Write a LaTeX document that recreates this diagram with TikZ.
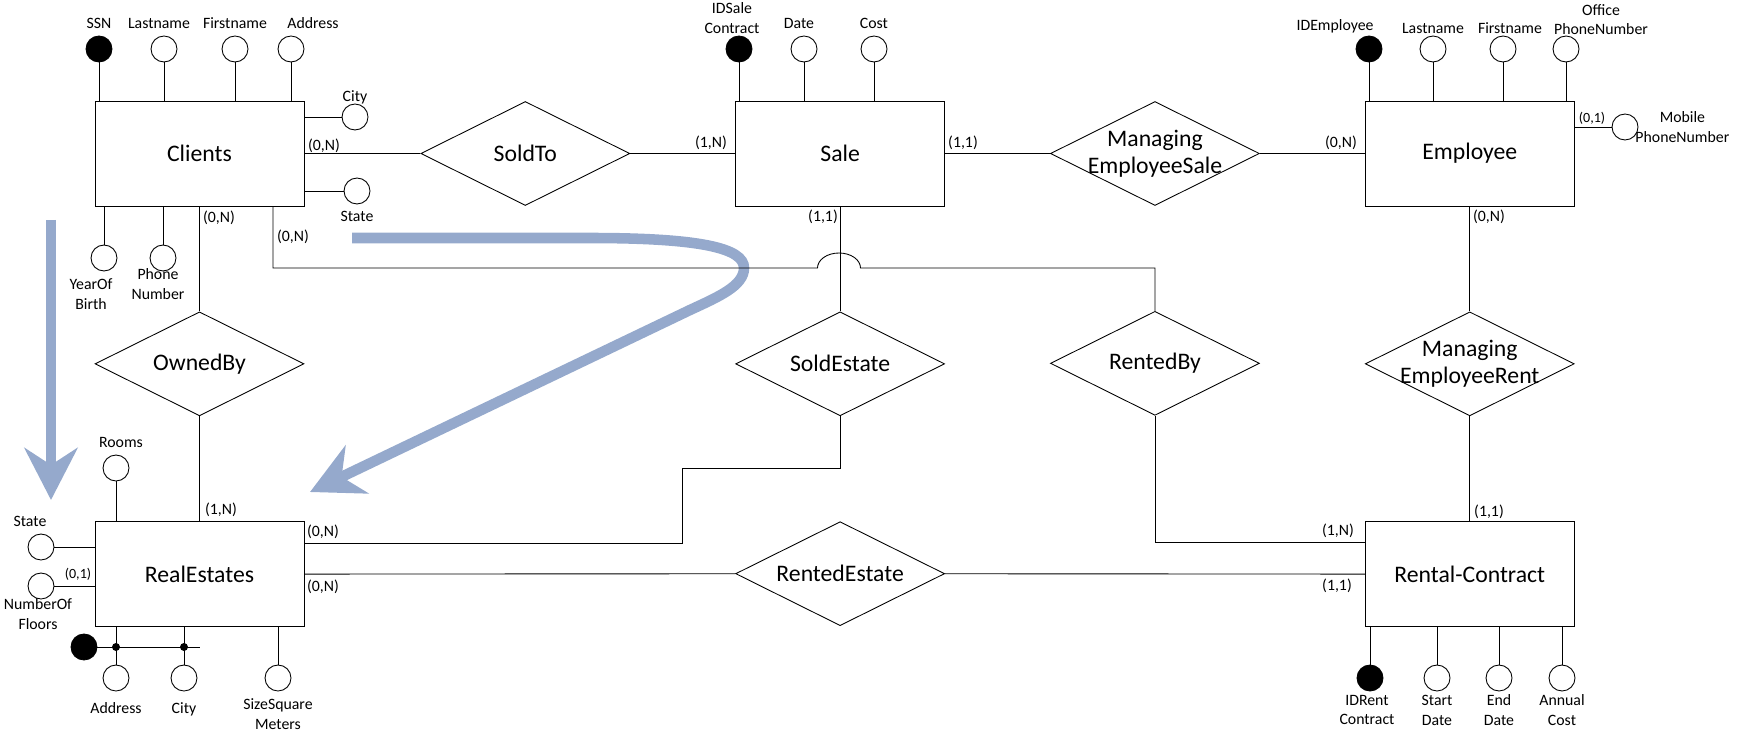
\documentclass[tikz,border=0pt]{standalone}
\usepackage{fontspec}
\setmainfont{Carlito}
\usepackage{tikz}
\usetikzlibrary{positioning,shapes.geometric,arrows.meta}
\definecolor{hintblue}{RGB}{149,169,204}

\tikzset{
  entity/.style={draw, rectangle, minimum width=4.18cm, minimum height=2.1cm, inner sep=0pt, font=\fontsize{13.5}{16}\selectfont},
  relation/.style={draw, diamond, aspect=2, minimum width=4.18cm, minimum height=2.08cm, inner sep=-2mm, align=center, font=\fontsize{13.5}{15.5}\selectfont},
  attr/.style={draw, circle, minimum size=0.52cm, inner sep=0pt},
  key/.style={attr, fill=black},
  lbl/.style={inner sep=1pt, outer sep=3pt, align=center, font=\fontsize{9}{11.3}\selectfont},
  card/.style={inner sep=0pt, font=\fontsize{9}{10}\selectfont},
  smallcard/.style={inner sep=0pt, font=\fontsize{8}{9}\selectfont},
  dot/.style={circle, fill=black, minimum size=0.16cm, inner sep=0pt},
  hint/.style={draw=hintblue, line width=6pt, -{Stealth[length=10.4mm, width=10.6mm, inset=3.4mm]}}
}

\begin{document}
\begin{tikzpicture}[x=0.02cm, y=-0.02cm, node distance=2.1cm, line width=0.5pt, every label/.style={lbl}]
\useasboundingbox (0,0) rectangle (1748,733);

% reading hints
\coordinate (downFrom) at (51,220);
\coordinate (downTo) at (51,500);
\draw[hint] (downFrom) -- (downTo);
\coordinate (curveFrom) at (352,238);
\coordinate (curveTo) at (310,492);
\draw[hint] (curveFrom) -- (590,238) .. controls (700,238) and (744,248) .. (744,268)
  .. controls (744,286) and (718,297) .. (690,310) -- (curveTo);

% entities and relationships
\node[entity] (Clients) at (199.5,153.5) {Clients};%
\node[relation, right=2.32cm of Clients] (SoldTo) {SoldTo};%
\node[entity, right=of SoldTo] (Sale) {Sale};%
\node[relation, right=of Sale] (MngSale) {Managing\\EmployeeSale};%
\node[entity, right=of MngSale] (Employee) {Employee};%
\node[relation, below=of Clients] (OwnedBy) {OwnedBy};%
\node[entity, below=of OwnedBy] (RealEstates) {RealEstates};%
\node[relation, below=of Sale] (SoldEstate) {SoldEstate};%
\node[relation, below=of SoldEstate] (RentedEstate) {RentedEstate};%
\node[relation, below=of MngSale] (RentedBy) {RentedBy};%
\node[relation, below=of Employee] (MngRent) {Managing\\EmployeeRent};%
\node[entity, below=of MngRent] (Rental) {Rental-Contract};%

% attributes of Clients
\node[key, label=above:SSN] (cSSN) at (99,49) {};%
\node[attr, label={[xshift=-1mm]above:Lastname}] (cLast) at (164,49) {};%
\node[attr, label=above:Firstname] (cFirst) at (235,49) {};%
\node[attr, label={[xshift=4.4mm]above:Address}] (cAddr) at (291,49) {};%
\node[attr, label={[yshift=-1.6mm]above:City}] (cCity) at (355,117) {};%
\node[attr, label=below:State] (cState) at (357,191) {};%
\node[attr, label={[xshift=-2.6mm]below:YearOf\\Birth}] (cYear) at (104,258) {};%
\node[attr, label={[xshift=-1mm, yshift=2mm]below:Phone\\Number}] (cPhone) at (163,258) {};%

% attributes of Sale
\node[key, label={[xshift=-1.4mm, yshift=-1mm]above:IDSale\\Contract}] (sID) at (739,49) {};%
\node[attr, label={[xshift=-1mm]above:Date}] (sDate) at (804,49) {};%
\node[attr, label=above:Cost] (sCost) at (874,49) {};%

% attributes of Employee
\node[key, label={[xshift=-6.8mm, yshift=-1mm]above:IDEmployee}] (eID) at (1369,49) {};%
\node[attr, label={[yshift=-1mm]above:Lastname}] (eLast) at (1433,49) {};%
\node[attr, label={[xshift=1.4mm, yshift=-1mm]above:Firstname}] (eFirst) at (1503,49) {};%
\node[attr, label={[xshift=7mm, yshift=-1.3mm]above:Office\\PhoneNumber}] (eOffice) at (1566,49) {};%
\node[attr, label={[xshift=-2mm]right:Mobile\\PhoneNumber}] (eMobile) at (1625,127) {};%

% attributes of RealEstates
\node[attr, label={[xshift=1mm]above:Rooms}] (rRooms) at (116,468) {};%
\node[attr, label={[xshift=-2.2mm]above:State}] (rState) at (41,547) {};%
\node[attr, label={[xshift=-0.6mm, yshift=1.6mm]below:NumberOf\\Floors}] (rFloors) at (41,586) {};%
\node[key] (rKey) at (84,647) {};%
\node[attr, label={[yshift=-0.9mm]below:Address}] (rAddr) at (116,678) {};%
\node[attr, label={[yshift=-0.9mm]below:City}] (rCity) at (184,678) {};%
\node[attr, label={below:SizeSquare\\Meters}] (rSize) at (278,678) {};%
\node[dot] (rDotA) at (rAddr |- rKey) {};%
\node[dot] (rDotC) at (rCity |- rKey) {};%
\coordinate (rKeyEnd) at (200,647);

% attributes of Rental-Contract
\node[key, label={[xshift=-0.6mm, yshift=0.7mm]below:IDRent\\Contract}] (tID) at (1370,678) {};%
\node[attr, label={[yshift=0.7mm]below:Start\\Date}] (tStart) at (1437,678) {};%
\node[attr, label={[yshift=0.7mm]below:End\\Date}] (tEnd) at (1499,678) {};%
\node[attr, label={[yshift=0.7mm]below:Annual\\Cost}] (tCost) at (1562,678) {};%

% cardinalities
\node[card] (cardCliSold) at (324,146) {(0,N)};
\node[card] (cardSaleSold) at (711,143) {(1,N)};
\node[card] (cardSaleMng) at (963,143) {(1,1)};
\node[card] (cardEmpMng) at (1341,143) {(0,N)};
\node[card] (cardCliOwn) at (219,218) {(0,N)};
\node[card] (cardCliRent) at (293,237) {(0,N)};
\node[card] (cardSaleEst) at (823,217) {(1,1)};
\node[card] (cardEmpRent) at (1489,217) {(0,N)};
\node[card] (cardReOwn) at (221,510) {(1,N)};
\node[card] (cardReSold) at (323,532) {(0,N)};
\node[card] (cardReRent) at (323,587) {(0,N)};
\node[card] (cardRcBy) at (1338,531) {(1,N)};
\node[card] (cardRcEst) at (1337,586) {(1,1)};
\node[card] (cardRcMng) at (1489,512) {(1,1)};
\node[smallcard] (cardFloors) at (78,574) {(0,1)};
\node[smallcard] (cardMobile) at (1592,118) {(0,1)};

% edges
\draw (Clients) -- (SoldTo);
\draw (SoldTo) -- (Sale);
\draw (Sale) -- (MngSale);
\draw (MngSale) -- (Employee);
\draw (Clients) -- (OwnedBy);
\draw (OwnedBy) -- (RealEstates);
\draw (Sale) -- (SoldEstate);
\draw (Employee) -- (MngRent);
\draw (MngRent) -- (Rental);
\draw (RealEstates) -- (RentedEstate);
\draw (RentedEstate) -- (Rental);
\coordinate (bend) at (682,468);
\draw ([yshift=6.2mm]RealEstates.east) -| (bend) -| (SoldEstate.south);
\draw ([yshift=6.3mm]Rental.west) -| (RentedBy.south);
\coordinate (jmp) at (817.5,268);
\draw ([xshift=14.7mm]Clients.south) |- (jmp) arc[start angle=180, end angle=360, x radius=21.5, y radius=15] -| (RentedBy.north);

% attribute links
\draw (Clients.north -| cSSN) -- (cSSN) (Clients.north -| cLast) -- (cLast)
      (Clients.north -| cFirst) -- (cFirst) (Clients.north -| cAddr) -- (cAddr)
      (Clients.east |- cCity) -- (cCity) (Clients.east |- cState) -- (cState)
      (Clients.south -| cYear) -- (cYear) (Clients.south -| cPhone) -- (cPhone);
\draw (Sale.north -| sID) -- (sID) (Sale.north -| sDate) -- (sDate) (Sale.north -| sCost) -- (sCost);
\draw (Employee.north -| eID) -- (eID) (Employee.north -| eLast) -- (eLast)
      (Employee.north -| eFirst) -- (eFirst) (Employee.north -| eOffice) -- (eOffice)
      (Employee.east |- eMobile) -- (eMobile);
\draw (RealEstates.north -| rRooms) -- (rRooms) (RealEstates.west |- rState) -- (rState)
      (RealEstates.west |- rFloors) -- (rFloors) (RealEstates.south -| rSize) -- (rSize)
      (RealEstates.south -| rAddr) -- (rAddr) (RealEstates.south -| rCity) -- (rCity);
\draw (rKey) -- (rKeyEnd);
\draw (Rental.south -| tID) -- (tID) (Rental.south -| tStart) -- (tStart)
      (Rental.south -| tEnd) -- (tEnd) (Rental.south -| tCost) -- (tCost);
\end{tikzpicture}
\end{document}
